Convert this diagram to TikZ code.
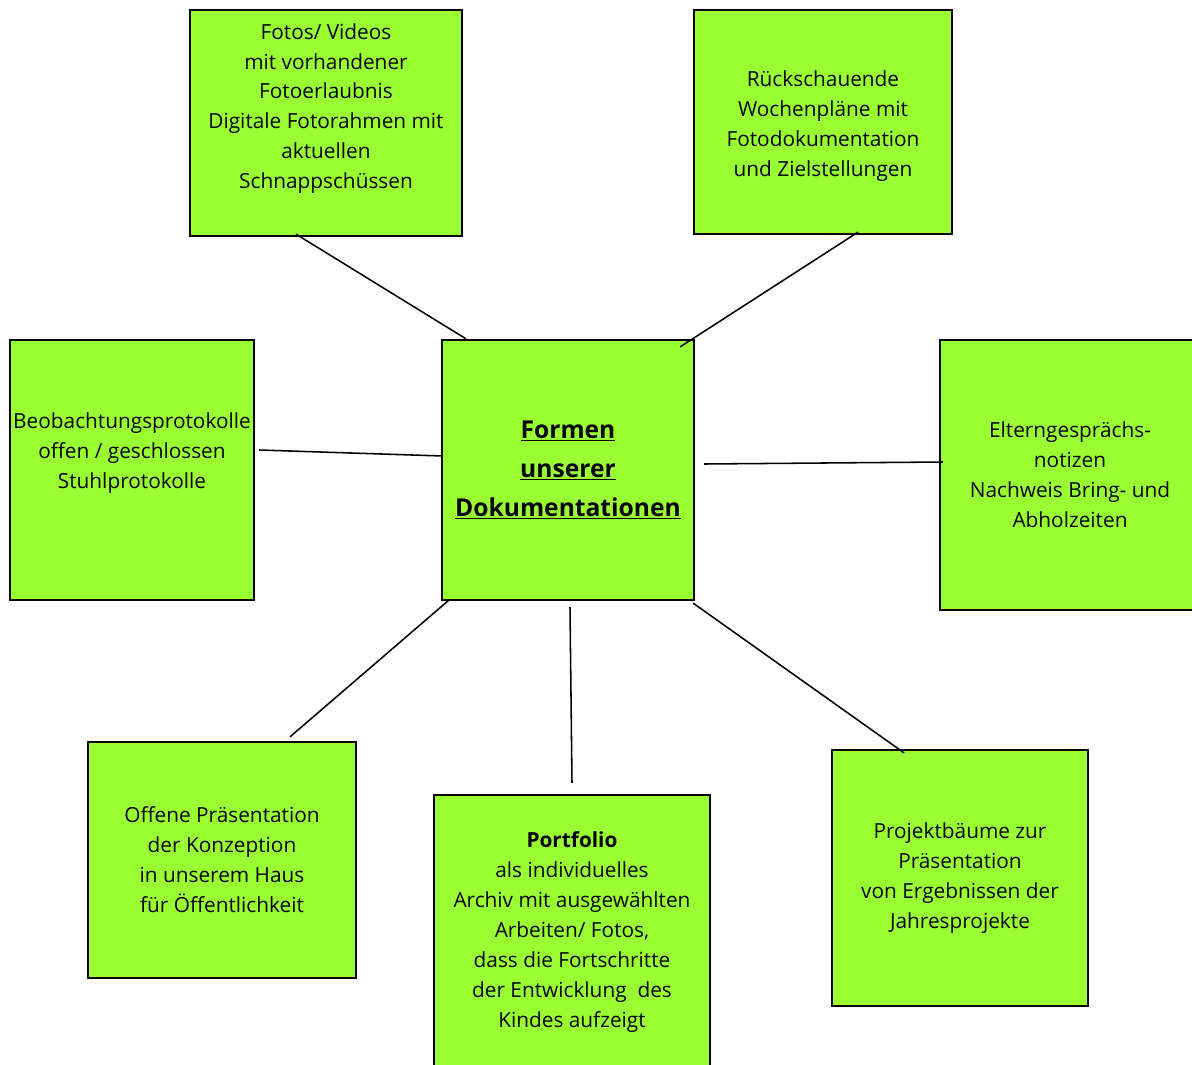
\documentclass[tikz,border=0pt]{standalone}
\usepackage{fontspec}
\setmainfont{Open Sans}
\usetikzlibrary{calc}

\tikzset{
  feld/.style={draw=black, line width=1.6pt, fill=feldgruen, align=center,
    font=\fontsize{14.8}{21.3}\selectfont, inner sep=0pt},
  verbindung/.style={draw=black, line width=1.1pt}
}
\definecolor{feldgruen}{HTML}{99FF33}

\begin{document}
\begin{tikzpicture}[x=0.025cm,y=-0.025cm]
  \useasboundingbox[fill=white] (0,0) rectangle (1192,1065);

  % Felder rund um die Mitte
  \node[feld, minimum width=6.8cm, minimum height=5.65cm] (fotos) at (326,123)
   {Fotos/ Videos\\ mit vorhandener\\ Fotoerlaubnis\\ Digitale Fotorahmen mit\\ aktuellen\\ Schnappschüssen\\[0.1cm]};
  \node[feld, minimum width=6.45cm, minimum height=5.6cm] (wochen) at (823,122)
   {\\[-0.15cm] Rückschauende\\ Wochenpläne mit\\ Fotodokumentation\\ und Zielstellungen};
  \node[feld, minimum width=6.1cm, minimum height=6.5cm] (beob) at (132,470)
   {Beobachtungsprotokolle\\ offen / geschlossen\\ Stuhlprotokolle\\[0.2cm]};
  \node[feld, minimum width=6.3cm, minimum height=6.5cm,
    font=\fontsize{17.5}{27.7}\selectfont\bfseries] (mitte) at (568,470)
   {\underline{Formen}\\ \underline{unserer}\\ \underline{Dokumentationen}};
  \node[feld, minimum width=6.5cm, minimum height=6.75cm] (eltern) at (1070,475)
   {Elterngesprächs-\\ notizen\\ Nachweis Bring- und\\ Abholzeiten};
  \node[feld, minimum width=6.7cm, minimum height=5.9cm] (offen) at (222,860)
   {Offene Präsentation\\ der Konzeption\\ in unserem Haus\\ für Öffentlichkeit};
  \node[feld, minimum width=6.9cm, minimum height=6.85cm] (portfolio) at (572,932)
   {\textbf{Portfolio}\\ als individuelles\\ Archiv mit ausgewählten\\ Arbeiten/ Fotos,\\
    dass die Fortschritte\\ der Entwicklung\ \ des\\ Kindes aufzeigt};
  \node[feld, minimum width=6.4cm, minimum height=6.4cm] (projekt) at (960,878)
   {Projektbäume zur\\ Präsentation\\ von Ergebnissen der\\ Jahresprojekte};

  % Verbindungen zur Mitte
  \draw[verbindung] ($(fotos.south)+(-30,-3)$) -- ($(mitte.north)+(-102,0)$);
  \draw[verbindung] ($(wochen.south)+(35,-3)$) -- ($(mitte.north east)+(-15,8)$);
  \draw[verbindung] ($(beob.east)+(4,-20)$) -- ($(mitte.west)+(2,-14)$);
  \draw[verbindung] ($(mitte.east)+(9,-6)$) -- ($(eltern.west)+(4,-13)$);
  \draw[verbindung] ($(mitte.south west)+(8,-1)$) -- ($(offen.north)+(68,-4)$);
  \draw[verbindung] ($(mitte.south)+(2,6)$) -- ($(portfolio.north)+(0,-11)$);
  \draw[verbindung] ($(mitte.south east)+(-2,2)$) -- ($(projekt.north)+(-56,4)$);
\end{tikzpicture}
\end{document}
